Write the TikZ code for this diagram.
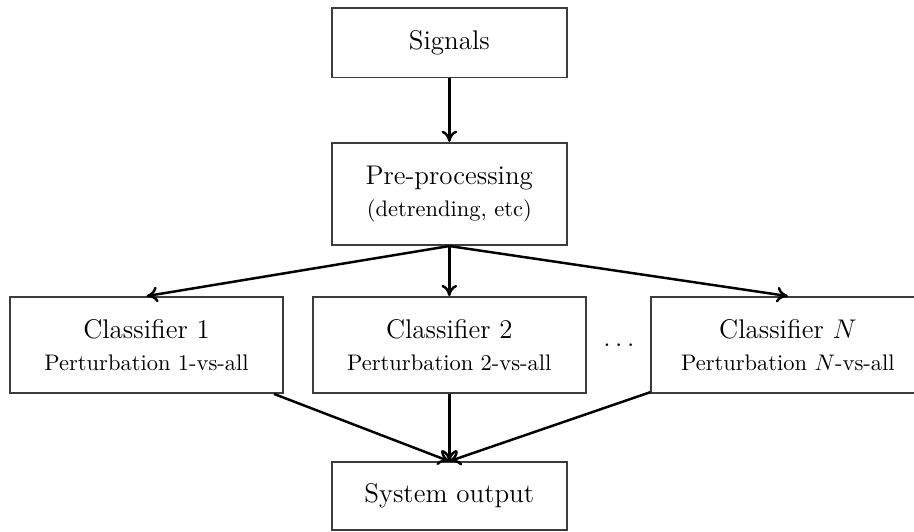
\documentclass[tikz,border=0pt]{standalone}
\usetikzlibrary{positioning,arrows.meta}

\definecolor{boxcolor}{RGB}{60,60,60}

\begin{document}
\begin{tikzpicture}[
  block/.style={draw=boxcolor, thick, align=center, font=\large, minimum width=3.67cm},
  clfbox/.style={block, minimum width=4.27cm, minimum height=1.5cm},
  link/.style={-{To[length=5pt,width=7pt]}, line width=1.1pt}
]
  \useasboundingbox (0,0) rectangle (14.28,8.30);

  % Draw the main blocks
  \node[block, minimum height=1.08cm] (signals) at (7.02,7.63) {Signals};
  \node[block, minimum height=1.6cm] (prep) at (7.02,5.27) {Pre-processing\\{\normalsize (detrending, etc)}};
  \node[block, minimum height=1.06cm] (output) at (7.02,0.55) {System output};

  % Draw the classifiers
  \node[clfbox] (clf1) at (2.29,2.91) {Classifier 1\\{\normalsize Perturbation 1-vs-all}};
  \node[clfbox] (clf2) at (7.02,2.91) {Classifier 2\\{\normalsize Perturbation 2-vs-all}};
  \node[clfbox] (clfN) at (12.31,2.91) {Classifier $N$\\{\normalsize Perturbation $N$-vs-all}};
  \node[font=\large] (dots) at (9.67,2.91) {$\dots$};

  % Connect the blocks
  \draw[link] (signals) -- (prep);
  \foreach \c in {clf1,clf2,clfN} {
    \draw[link] (prep.south) -- (\c.north);
    \draw[link] (\c) -- (output.north);
  }
\end{tikzpicture}
\end{document}
